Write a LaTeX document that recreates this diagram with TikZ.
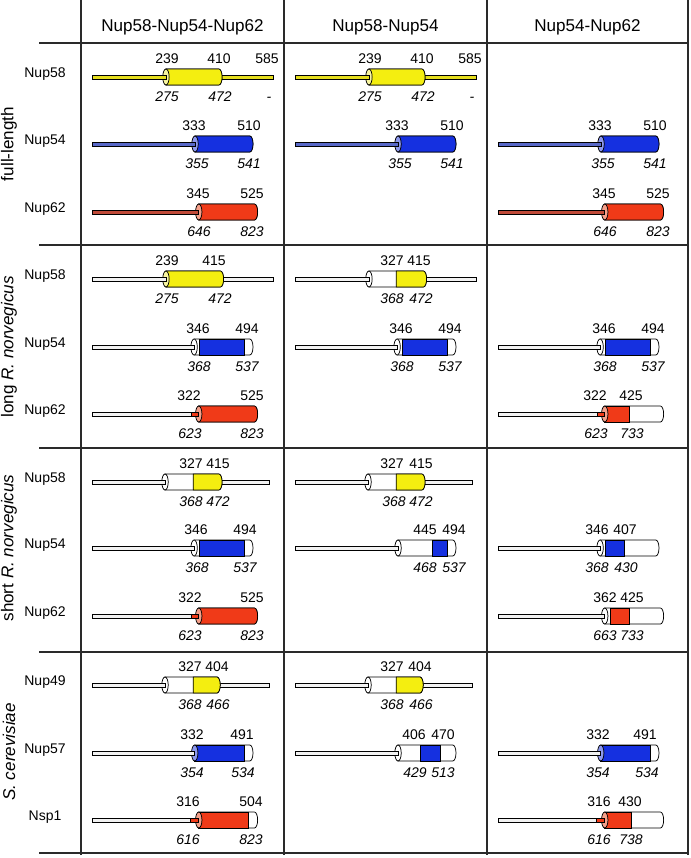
\documentclass[tikz,border=0pt]{standalone}
\usepackage{fontspec}
\setmainfont{Liberation Sans}
\definecolor{yel}{HTML}{F4EE10}
\definecolor{yface}{HTML}{F8F5A0}
\definecolor{yline}{HTML}{E6DE1E}
\definecolor{blu}{HTML}{1530E0}
\definecolor{bface}{HTML}{8C98EE}
\definecolor{bline}{HTML}{5868C8}
\definecolor{rd}{HTML}{F03A18}
\definecolor{rface}{HTML}{F5A08A}
\definecolor{rline}{HTML}{C04A38}
\definecolor{wline}{HTML}{F2F2F2}
\definecolor{gridc}{HTML}{2A2A2A}
\tikzset{
  tline/.style={draw=black, line width=0.4pt},
  cy/.style={draw=black, line width=0.55pt},
  num/.style={inner sep=0pt, font=\fontsize{10.5}{12}\selectfont, text height=7.6pt, text depth=0pt},
  numi/.style={num, font=\fontsize{10.5}{12}\selectfont\itshape},
  rowlab/.style={inner sep=0pt, font=\fontsize{10.5}{12}\selectfont},
  grplab/.style={inner sep=0pt, rotate=90, font=\fontsize{12.8}{15}\selectfont},
  head/.style={inner sep=0pt, font=\fontsize{12.8}{15}\selectfont},
  gridline/.style={line width=1.8pt, draw=gridc},
}
\newcounter{lbl}
\newcommand\pline[5]{\filldraw[tline, fill=#5] ({#2+0.3094*#3},{-#1-1.9}) rectangle ({#2+0.3094*#4},{-#1+1.9});}
\newcommand\pcyl[8]{%
  \pgfmathsetmacro\xa{#2+0.3094*#3}%
  \pgfmathsetmacro\xb{#2+0.3094*#4}%
  \pgfmathsetmacro\xc{#2+0.3094*#5}%
  \pgfmathsetmacro\xd{#2+0.3094*#6}%
  \pgfmathsetmacro\yt{-#1+8}%
  \pgfmathsetmacro\yb{-#1-8}%
  \filldraw[cy, fill=white] (\xa,\yt) -- (\xb,\yt) arc[start angle=90,end angle=-90,x radius=3.2,y radius=8] -- (\xa,\yb) -- cycle;
  \ifdim #6pt=#4pt
    \filldraw[cy, fill=#7] (\xc,\yt) -- (\xb,\yt) arc[start angle=90,end angle=-90,x radius=3.2,y radius=8] -- (\xc,\yb) -- cycle;
  \else
    \filldraw[cy, fill=#7] (\xc,\yt) rectangle (\xd,\yb);
  \fi
  \filldraw[cy, fill=#8] (\xa,-#1) ellipse[x radius=3.2, y radius=8];
}
\newcommand\nt[3]{\stepcounter{lbl}\node[num] (t\arabic{lbl}) at ({#1},{-#2+19}) {#3};}
\newcommand\nb[3]{\stepcounter{lbl}\node[numi] (b\arabic{lbl}) at ({#1},{-#2-19.5}) {#3};}
\begin{document}
\begin{tikzpicture}[x=0.75pt,y=0.75pt]
\useasboundingbox (0,0) rectangle (691,-858);
% grid
\foreach \gx in {81,284,487,688} \draw[gridline] (\gx,0) -- (\gx,-855);
\foreach \gy in {43,245,448,652,853} \draw[gridline] (39,-\gy) -- (689,-\gy);
% headers
\node[head] (h1) at (182.5,-27) {Nup58-Nup54-Nup62};
\node[head] (h2) at (385.5,-27) {Nup58-Nup54};
\node[head] (h3) at (587.5,-27) {Nup54-Nup62};
% group labels
\node[grplab] (g1) at (9,-144) {full-length};
\node[grplab] (g2) at (9,-347) {long \textit{R. norvegicus}};
\node[grplab] (g3) at (9,-548) {short \textit{R. norvegicus}};
\node[grplab] (g4) at (9,-752) {\textit{S. cerevisiae}};
% row labels
\node[rowlab] (r1) at (45,-74) {Nup58};
\node[rowlab] (r2) at (45,-141) {Nup54};
\node[rowlab] (r3) at (45,-209) {Nup62};
\node[rowlab] (r4) at (45,-276) {Nup58};
\node[rowlab] (r5) at (45,-344) {Nup54};
\node[rowlab] (r6) at (45,-411) {Nup62};
\node[rowlab] (r7) at (45,-479) {Nup58};
\node[rowlab] (r8) at (45,-545) {Nup54};
\node[rowlab] (r9) at (45,-613) {Nup62};
\node[rowlab] (r10) at (45,-682) {Nup49};
\node[rowlab] (r11) at (45,-750) {Nup57};
\node[rowlab] (r12) at (45,-817) {Nsp1};

%%%%%%%% full-length
\foreach \xo in {92,295}{
  \pline{77}{\xo}{410}{585}{yline}
  \pcyl{77}{\xo}{239}{410}{239}{410}{yel}{yface}
  \pline{77}{\xo}{0}{239}{yline}
  \nt{\xo+75}{77}{239}\nt{\xo+127}{77}{410}\nt{\xo+175}{77}{585}
  \nb{\xo+75}{77}{275}\nb{\xo+128}{77}{472}\nb{\xo+177}{77}{-}
}
\foreach \xo in {92,295,498}{
  \pcyl{144}{\xo}{333}{510}{333}{510}{blu}{bface}
  \pline{144}{\xo}{0}{333}{bline}
  \nt{\xo+102}{144}{333}\nt{\xo+157}{144}{510}
  \nb{\xo+105}{144}{355}\nb{\xo+157}{144}{541}
}
\foreach \xo in {92,498}{
  \pcyl{212}{\xo}{345}{525}{345}{525}{rd}{rface}
  \pline{212}{\xo}{0}{345}{rline}
  \nt{\xo+106}{212}{345}\nt{\xo+160}{212}{525}
  \nb{\xo+107}{212}{646}\nb{\xo+160}{212}{823}
}
%%%%%%%% long R. norvegicus
\pline{279}{92}{415}{585}{wline}
\pcyl{279}{92}{239}{415}{239}{415}{yel}{yface}
\pline{279}{92}{0}{239}{wline}
\nt{92+75}{279}{239}\nt{92+122}{279}{415}
\nb{92+75}{279}{275}\nb{92+128}{279}{472}

\pline{279}{295}{415}{585}{wline}
\pcyl{279}{295}{239}{415}{327}{415}{yel}{white}
\pline{279}{295}{0}{239}{wline}
\nt{295+97}{279}{327}\nt{295+124}{279}{415}
\nb{295+97}{279}{368}\nb{295+126}{279}{472}

\foreach \xo in {92,295,498}{
  \pcyl{347}{\xo}{330}{510}{346}{494}{blu}{white}
  \pline{347}{\xo}{0}{330}{wline}
  \nt{\xo+106}{347}{346}\nt{\xo+155}{347}{494}
  \nb{\xo+107}{347}{368}\nb{\xo+155}{347}{537}
}

\pcyl{414}{92}{345}{525}{345}{525}{rd}{rface}
\pline{414}{92}{0}{322}{wline}
\pline{414}{92}{322}{345}{rd}
\nt{92+97}{414}{322}\nt{92+160}{414}{525}
\nb{92+98}{414}{623}\nb{92+160}{414}{823}

\pcyl{414}{498}{345}{525}{345}{425}{rd}{rface}
\pline{414}{498}{0}{322}{wline}
\pline{414}{498}{322}{345}{rd}
\nt{498+97}{414}{322}\nt{498+133}{414}{425}
\nb{498+98}{414}{623}\nb{498+134}{414}{733}

%%%%%%%% short R. norvegicus
\foreach \xo/\pa/\pb in {92/99/126,295/97/126}{
  \pline{482}{\xo}{410}{572}{wline}
  \pcyl{482}{\xo}{236}{410}{327}{410}{yel}{white}
  \pline{482}{\xo}{0}{236}{wline}
  \nt{\xo+\pa}{482}{327}\nt{\xo+\pb}{482}{415}
  \nb{\xo+99}{482}{368}\nb{\xo+126}{482}{472}
}

\pcyl{548}{92}{330}{510}{346}{494}{blu}{white}
\pline{548}{92}{0}{330}{wline}
\nt{92+104}{548}{346}\nt{92+153}{548}{494}
\nb{92+105}{548}{368}\nb{92+153}{548}{537}

\pcyl{548}{295}{333}{510}{445}{494}{blu}{white}
\pline{548}{295}{0}{333}{wline}
\nt{295+130}{548}{445}\nt{295+159}{548}{494}
\nb{295+130}{548}{468}\nb{295+159}{548}{537}

\pcyl{548}{498}{330}{510}{346}{407}{blu}{white}
\pline{548}{498}{0}{330}{wline}
\nt{498+99}{548}{346}\nt{498+127}{548}{407}
\nb{498+99}{548}{368}\nb{498+128}{548}{430}

\pcyl{616}{92}{345}{525}{345}{525}{rd}{rface}
\pline{616}{92}{0}{322}{wline}
\pline{616}{92}{322}{345}{rd}
\nt{92+98}{616}{322}\nt{92+160}{616}{525}
\nb{92+98}{616}{623}\nb{92+160}{616}{823}

\pcyl{616}{498}{345}{525}{362}{425}{rd}{white}
\pline{616}{498}{0}{345}{wline}
\nt{498+107}{616}{362}\nt{498+134}{616}{425}
\nb{498+107}{616}{663}\nb{498+134}{616}{733}

%%%%%%%% S. cerevisiae
\foreach \xo/\pa in {92/98,295/97}{
  \pline{685}{\xo}{404}{572}{wline}
  \pcyl{685}{\xo}{236}{404}{327}{404}{yel}{white}
  \pline{685}{\xo}{0}{236}{wline}
  \nt{\xo+\pa}{685}{327}\nt{\xo+125}{685}{404}
  \nb{\xo+\pa}{685}{368}\nb{\xo+126}{685}{466}
}

\pcyl{753}{92}{332}{510}{332}{491}{blu}{bface}
\pline{753}{92}{0}{332}{wline}
\nt{92+100}{753}{332}\nt{92+150}{753}{491}
\nb{92+100}{753}{354}\nb{92+151}{753}{534}

\pcyl{753}{295}{333}{510}{406}{470}{blu}{white}
\pline{753}{295}{0}{333}{wline}
\nt{295+119}{753}{406}\nt{295+148}{753}{470}
\nb{295+120}{753}{429}\nb{295+148}{753}{513}

\pcyl{753}{498}{332}{510}{332}{491}{blu}{bface}
\pline{753}{498}{0}{332}{wline}
\nt{498+100}{753}{332}\nt{498+147}{753}{491}
\nb{498+100}{753}{354}\nb{498+149}{753}{534}

\pcyl{820}{92}{345}{525}{345}{504}{rd}{rface}
\pline{820}{92}{0}{316}{wline}
\pline{820}{92}{316}{345}{rd}
\nt{92+96}{820}{316}\nt{92+159}{820}{504}
\nb{92+96}{820}{616}\nb{92+159}{820}{823}

\pcyl{820}{498}{345}{525}{345}{430}{rd}{rface}
\pline{820}{498}{0}{316}{wline}
\pline{820}{498}{316}{345}{rd}
\nt{498+101}{820}{316}\nt{498+132}{820}{430}
\nb{498+101}{820}{616}\nb{498+133}{820}{738}
\end{tikzpicture}
\end{document}
